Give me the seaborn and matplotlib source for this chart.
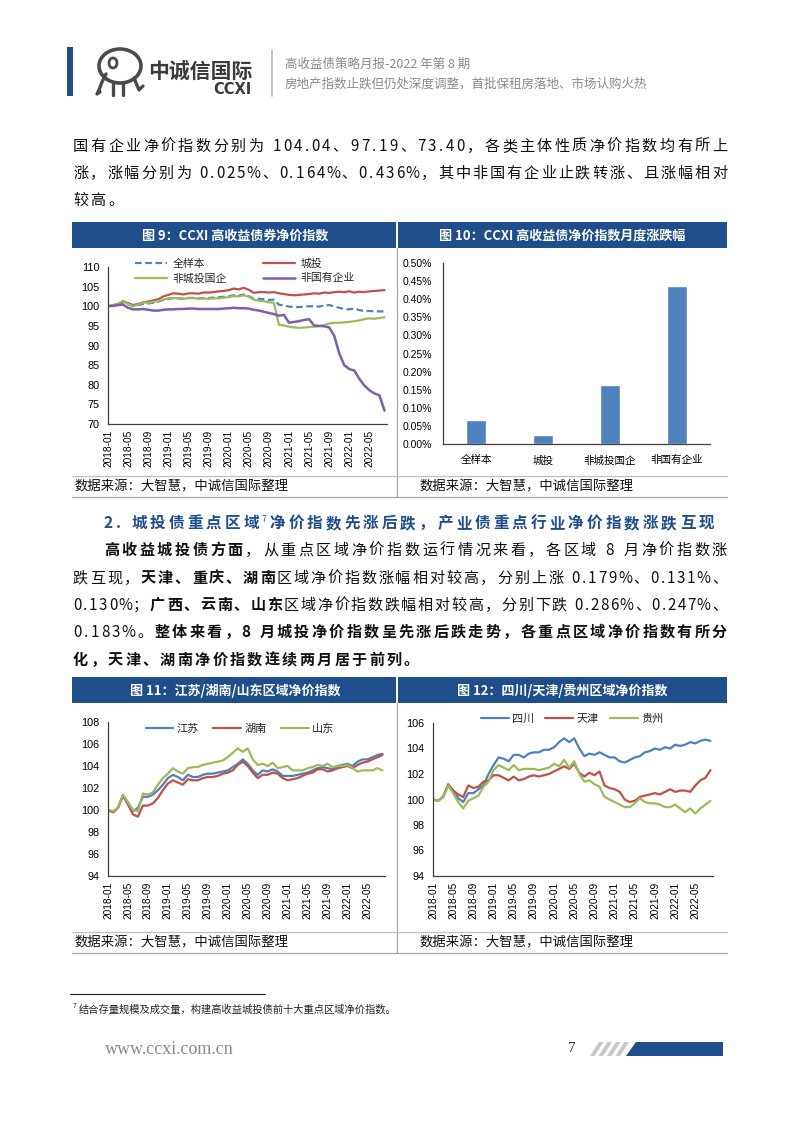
import unicodedata
import numpy as np
import pandas as pd
import matplotlib
matplotlib.use('Agg')
import matplotlib.pyplot as plt
import seaborn as sns
from matplotlib.patches import Rectangle, Polygon, Ellipse

# ------------------------------------------------------------------ data
months = list(range(56))  # 2018-01 ... 2022-08
tick_months = [0, 4, 8, 12, 16, 20, 24, 28, 32, 36, 40, 44, 48, 52]
tick_labels = ['2018-01', '2018-05', '2018-09', '2019-01', '2019-05', '2019-09', '2020-01',
               '2020-05', '2020-09', '2021-01', '2021-05', '2021-09', '2022-01', '2022-05']

# Fig 9
s9_names = ['全样本', '城投', '非城投国企', '非国有企业']
s9_all = [100, 100.2, 100.5, 101.0, 100.5, 100.0, 100.3, 100.6, 100.7, 100.9, 101.2, 101.6, 101.9, 102.1,
          102.0, 101.9, 102.1, 102.1, 102.0, 102.1, 102.1, 102.2, 102.3, 102.4, 102.5, 102.8, 102.7, 103.0,
          102.6, 101.9, 101.9, 101.8, 101.6, 101.7, 100.4, 100.2, 99.9, 99.8, 99.8, 99.9, 100.0, 100.0,
          99.9, 100.2, 100.3, 100.0, 99.6, 99.3, 99.2, 99.4, 99.0, 98.8, 98.8, 98.7, 98.7, 98.7]
s9_ct = [100, 100.2, 100.5, 101.3, 100.8, 100.3, 100.6, 101.0, 101.2, 101.5, 101.8, 102.5, 102.9, 103.3,
         103.2, 103.0, 103.3, 103.3, 103.2, 103.5, 103.5, 103.6, 103.8, 103.9, 104.1, 104.5, 104.3, 104.7,
         104.2, 103.4, 103.6, 103.6, 103.5, 103.6, 103.3, 103.1, 102.9, 102.8, 102.9, 103.0, 103.1, 103.3,
         103.2, 103.5, 103.4, 103.6, 103.7, 103.6, 103.8, 103.5, 103.7, 103.6, 103.8, 103.9, 104.0, 104.1]
s9_soe = [100, 100.3, 100.7, 101.3, 100.6, 100.0, 100.4, 101.0, 100.9, 101.1, 101.3, 101.7, 102.0, 102.1,
          102.0, 101.9, 102.1, 102.1, 101.9, 102.0, 101.9, 102.0, 102.0, 102.2, 102.3, 102.6, 102.5, 102.8,
          102.4, 101.7, 101.4, 101.3, 101.0, 100.9, 95.3, 95.1, 94.8, 94.6, 94.5, 94.6, 94.7, 94.8,
          94.9, 95.2, 95.6, 95.8, 95.8, 95.9, 96.0, 96.2, 96.4, 96.7, 96.9, 96.8, 97.0, 97.2]
s9_pri = [100, 100.1, 100.3, 100.4, 99.6, 99.2, 99.2, 99.3, 99.1, 98.9, 98.9, 99.1, 99.2, 99.2,
          99.3, 99.3, 99.4, 99.4, 99.3, 99.3, 99.3, 99.3, 99.3, 99.4, 99.5, 99.6, 99.5, 99.5,
          99.4, 99.1, 98.9, 98.6, 98.3, 98.0, 97.6, 97.8, 95.8, 96.0, 96.2, 96.5, 96.7, 95.1,
          95.0, 94.9, 94.6, 92.5, 88.0, 85.0, 84.0, 83.6, 81.5, 79.8, 78.6, 77.8, 77.3, 73.4]

# Fig 10
cats10 = ['全样本', '城投', '非城投国企', '非国有企业']
vals10 = [0.067, 0.025, 0.164, 0.436]  # percent

# Fig 11
s11_names = ['江苏', '湖南', '山东']
s11_js = [100, 99.8, 100.2, 101.3, 100.7, 99.9, 100.2, 101.2, 101.2, 101.4, 101.8, 102.3, 102.9, 103.2,
          103.0, 102.7, 103.2, 103.0, 103.0, 103.2, 103.3, 103.3, 103.4, 103.5, 103.6, 103.9, 104.2, 104.6,
          104.2, 103.6, 103.2, 103.6, 103.5, 103.7, 103.5, 103.1, 103.1, 103.1, 103.2, 103.3, 103.4, 103.6,
          103.8, 103.9, 103.8, 103.7, 104.0, 104.1, 104.2, 104.0, 104.4, 104.6, 104.6, 104.8, 105.0, 105.1]
s11_hn = [100, 99.8, 100.2, 101.3, 100.5, 99.6, 99.4, 100.4, 100.4, 100.6, 101.1, 101.8, 102.4, 102.7,
          102.5, 102.3, 102.8, 102.7, 102.7, 102.9, 103.0, 103.0, 103.1, 103.3, 103.4, 103.6, 104.1, 104.4,
          104.0, 103.4, 102.9, 103.2, 103.2, 103.4, 103.3, 102.9, 102.7, 102.8, 102.9, 103.1, 103.3, 103.4,
          103.7, 103.7, 103.5, 103.6, 103.8, 103.9, 104.0, 103.8, 104.1, 104.3, 104.4, 104.6, 104.8, 105.0]
s11_sd = [100, 99.9, 100.2, 101.4, 100.7, 100.0, 99.9, 101.5, 101.4, 101.6, 102.3, 102.9, 103.3, 103.8,
          103.5, 103.3, 103.8, 103.9, 103.9, 104.1, 104.2, 104.3, 104.4, 104.5, 104.8, 105.2, 105.6, 105.3,
          105.6, 104.6, 104.1, 104.2, 104.0, 104.3, 103.8, 103.9, 104.0, 103.6, 103.6, 103.6, 103.8, 103.9,
          104.1, 104.0, 104.2, 103.9, 104.0, 104.0, 104.1, 103.8, 103.5, 103.6, 103.6, 103.6, 103.8, 103.6]

# Fig 12
s12_names = ['四川', '天津', '贵州']
s12_sc = [100, 99.9, 100.2, 101.1, 100.7, 100.1, 99.8, 100.5, 100.5, 100.8, 101.1, 102.0, 102.7, 103.3,
          103.2, 103.0, 103.5, 103.5, 103.3, 103.6, 103.7, 103.7, 103.9, 103.9, 104.1, 104.5, 104.8, 104.5,
          104.8, 104.0, 103.4, 103.6, 103.5, 103.7, 103.5, 103.3, 103.3, 103.0, 102.9, 103.1, 103.3, 103.4,
          103.7, 103.8, 104.0, 103.9, 104.1, 104.0, 104.3, 104.2, 104.3, 104.5, 104.4, 104.6, 104.7, 104.6]
s12_tj = [100, 99.9, 100.2, 101.2, 100.7, 100.4, 100.2, 101.1, 100.9, 101.0, 101.4, 101.5, 101.9, 101.9,
          101.7, 101.5, 101.8, 101.5, 101.6, 101.8, 101.9, 101.8, 101.9, 102.0, 102.2, 102.4, 102.6, 102.4,
          102.8, 102.1, 101.8, 102.1, 101.9, 102.2, 101.1, 100.9, 100.8, 100.6, 100.0, 99.8, 99.9, 100.2,
          100.3, 100.4, 100.5, 100.4, 100.6, 100.8, 100.6, 100.7, 100.7, 100.6, 101.1, 101.5, 101.7, 102.3]
s12_gz = [100, 99.9, 100.2, 101.1, 100.5, 99.8, 99.3, 99.9, 100.1, 100.3, 101.0, 101.4, 102.3, 102.7,
          102.5, 102.3, 102.7, 102.3, 102.4, 102.4, 102.4, 102.3, 102.4, 102.5, 102.8, 102.6, 103.1, 102.5,
          103.0, 102.0, 101.4, 101.5, 101.2, 101.0, 100.2, 100.0, 99.8, 99.6, 99.4, 99.4, 99.7, 100.1,
          99.8, 99.7, 99.7, 99.6, 99.4, 99.4, 99.6, 99.3, 99.0, 99.3, 98.9, 99.3, 99.6, 99.9]

# ------------------------------------------------------------------ setup
sns.set_theme(style='white')
CJK = ['Noto Sans CJK SC', 'DejaVu Sans']
plt.rcParams['font.family'] = CJK
plt.rcParams['axes.unicode_minus'] = False

W, H = 802, 1133
fig = plt.figure(figsize=(W / 100, H / 100), dpi=100)
fig.patch.set_facecolor('white')

bg = fig.add_axes([0, 0, 1, 1], zorder=0)
bg.set_xlim(0, W)
bg.set_ylim(H, 0)
bg.axis('off')

NAVY = '#1F4E8C'
BLUE = '#4F81BD'
RED = '#C0504D'
GREEN = '#9BBB59'
PURPLE = '#7E5FA8'

HALF = {' ': 0.30, '.': 0.30, '%': 0.85, '7': 0.55}


def adv(c, size):
    em = size * 100 / 72
    if unicodedata.east_asian_width(c) in ('W', 'F'):
        return em
    return HALF.get(c, 0.55) * em


PUNCT = set('，、。；：')


def draw_line(segs, x0, yc, x1=None, gap=None, size=10.9, color='#111111'):
    items = []
    for seg in segs:
        txt, bold = seg[0], seg[1]
        sz = seg[2] if len(seg) > 2 else size
        dy = seg[3] if len(seg) > 3 else 0
        col = seg[4] if len(seg) > 4 else color
        for c in txt:
            items.append((c, bold, sz, dy, col))
    advs = [adv(c, s) for c, b, s, _, _ in items]
    if gap is None:
        gap = (x1 - x0 - sum(advs)) / (len(items) - 1) if x1 is not None else 0
    em = size * 100 / 72
    yb = yc + 0.38 * em
    x = x0
    for (c, b, s, dy, col), a in zip(items, advs):
        if c != ' ':
            w = 'bold' if b else 'normal'
            if c in PUNCT:
                bg.text(x, yb + dy, c, ha='left', va='baseline', fontsize=s, fontweight=w, color=col)
            else:
                bg.text(x + a / 2, yb + dy, c, ha='center', va='baseline', fontsize=s, fontweight=w, color=col)
        x += a + gap
    return gap


# ------------------------------------------------------------------ header
bg.add_patch(Rectangle((67, 47), 6, 49, color=NAVY, lw=0))
# elephant logo (approximation)
bg.add_patch(Ellipse((120, 66), 42, 34, fill=False, ec='#4a4a4a', lw=2.6))
bg.plot([106, 102, 99, 97, 100], [74, 82, 90, 94, 92], color='#4a4a4a', lw=2.4, solid_capstyle='round')
bg.plot([113, 113], [82, 95], color='#4a4a4a', lw=2.4)
bg.plot([123, 123], [83, 95], color='#4a4a4a', lw=2.4)
bg.plot([134, 139, 143], [78, 90, 86], color='#4a4a4a', lw=2.4)
bg.add_patch(Ellipse((113, 63), 8, 10, fill=False, ec='#4a4a4a', lw=2.0))
bg.text(148, 71, '中诚信国际', fontsize=15, fontweight='bold', color='#3a3a3a', ha='left', va='center')
bg.text(252, 89, 'CCXI', fontsize=10.5, fontweight='bold', color='#3a3a3a', ha='right', va='center',
        family='DejaVu Sans')
bg.plot([272, 272], [50, 96], color='#A8BCD0', lw=1.2)
bg.text(285, 64, '高收益债策略月报-2022 年第 8 期', fontsize=9.0, color='#8a8a8a', ha='left', va='center')
bg.text(285, 84, '房地产指数止跌但仍处深度调整，首批保租房落地、市场认购火热', fontsize=9.0,
        color='#8a8a8a', ha='left', va='center')

# ------------------------------------------------------------------ paragraph 1
L, R = 73, 727
g = draw_line([('国有企业净价指数分别为 104.04、97.19、73.40，各类主体性质净价指数均有所上', False)], L, 145, R)
draw_line([('涨，涨幅分别为 0.025%、0.164%、0.436%，其中非国有企业止跌转涨、且涨幅相对', False)], L, 172, R)
draw_line([('较高。', False)], L, 199, gap=g)

# ------------------------------------------------------------------ panel helpers


def panel_frame(ytop, ybot):
    bg.add_patch(Rectangle((72, ytop), 324, 26, color=NAVY, lw=0))
    bg.add_patch(Rectangle((398, ytop), 329, 26, color=NAVY, lw=0))
    bg.plot([397, 397], [ytop + 26, ybot], color='#A6A6A6', lw=0.9)
    bg.plot([72, 727], [ybot - 21, ybot - 21], color='#BFBFBF', lw=0.9)
    bg.plot([72, 727], [ybot, ybot], color='#A6A6A6', lw=0.9)
    bg.text(75, ybot - 10.5, '数据来源：大智慧，中诚信国际整理', fontsize=9.6, color='#111', ha='left', va='center')
    bg.text(420, ybot - 10.5, '数据来源：大智慧，中诚信国际整理', fontsize=9.6, color='#111', ha='left', va='center')


def add_ax(x0, y0, x1, y1):
    ax = fig.add_axes([x0 / W, 1 - y1 / H, (x1 - x0) / W, (y1 - y0) / H], zorder=2)
    ax.set_facecolor('none')
    for s in ['top', 'right']:
        ax.spines[s].set_visible(False)
    for s in ['left', 'bottom']:
        ax.spines[s].set_color('#404040')
        ax.spines[s].set_linewidth(0.9)
    ax.grid(False)
    return ax


def finish_line_ax(ax, ylim, yticks):
    ax.set_xlim(0, 55.5)
    ax.set_ylim(*ylim)
    ax.set_yticks(yticks)
    ax.set_yticklabels([str(v) for v in yticks])
    ax.set_xticks(tick_months)
    ax.set_xticklabels(tick_labels, rotation=90)
    ax.set_xlabel('')
    ax.set_ylabel('')
    ax.tick_params(axis='y', length=0, pad=6, labelsize=7.8, labelfontfamily='Liberation Sans', labelcolor='#000')
    ax.tick_params(axis='x', length=0, pad=4, labelsize=7.3, labelfontfamily='Liberation Sans', labelcolor='#000')


# ------------------------------------------------------------------ figure 9 / 10
panel_frame(222, 497)
bg.text(235, 235.5, '图 9：CCXI 高收益债券净价指数', color='white', fontsize=9.4, fontweight='bold',
        ha='center', va='center')
bg.text(562, 235.5, '图 10：CCXI 高收益债净价指数月度涨跌幅', color='white', fontsize=9.4, fontweight='bold',
        ha='center', va='center')

ax9 = add_ax(108, 267, 387, 424)
sns.lineplot(x=months, y=s9_all, ax=ax9, color=BLUE, linewidth=1.6, linestyle=(0, (3, 1.6)), label=s9_names[0])
sns.lineplot(x=months, y=s9_ct, ax=ax9, color=RED, linewidth=1.6, label=s9_names[1])
sns.lineplot(x=months, y=s9_soe, ax=ax9, color=GREEN, linewidth=1.6, label=s9_names[2])
sns.lineplot(x=months, y=s9_pri, ax=ax9, color=PURPLE, linewidth=1.8, label=s9_names[3])
finish_line_ax(ax9, (70, 110), [70, 75, 80, 85, 90, 95, 100, 105, 110])
h, l = ax9.get_legend_handles_labels()
order = [0, 2, 1, 3]
ax9.legend([h[i] for i in order], [l[i] for i in order], ncol=2, frameon=False, fontsize=7.8,
           handlelength=2.9, handletextpad=0.5, columnspacing=3.4, labelspacing=0.4,
           loc='center', bbox_to_anchor=(245 / W, 1 - 271 / H), bbox_transform=fig.transFigure)

ax10 = add_ax(443, 263, 710, 444)
df10 = pd.DataFrame({'cat': cats10, 'val': vals10})
sns.barplot(data=df10, x='cat', y='val', ax=ax10, color=BLUE, saturation=1, width=0.3)
ax10.set_xlim(-0.5, 3.5)
ax10.set_ylim(0, 0.5)
yt10 = [0.0, 0.05, 0.10, 0.15, 0.20, 0.25, 0.30, 0.35, 0.40, 0.45, 0.50]
ax10.set_yticks(yt10)
ax10.set_yticklabels([f'{v:.2f}%' for v in yt10])
ax10.set_xlabel('')
ax10.set_ylabel('')
ax10.tick_params(axis='y', length=0, pad=8, labelsize=7.5, labelfontfamily='Liberation Sans', labelcolor='#000')
ax10.tick_params(axis='x', length=0, pad=8, labelsize=7.6, labelcolor='#000')

# ------------------------------------------------------------------ section 2
hs = 11.2
draw_line([('2. ', True, hs, 0, NAVY), ('城投债重点区域', True, hs, 0, NAVY), ('7', False, 6.0, -6, NAVY),
           ('净价指数先涨后跌，产业债重点行业净价指数涨跌互现', True, hs, 0, NAVY)], 104, 522, 714, size=hs)
g2 = draw_line([('高收益城投债方面', True), ('，从重点区域净价指数运行情况来看，各区域 8 月净价指数涨', False)],
               104, 549, R)
draw_line([('跌互现，', False), ('天津、重庆、湖南', True), ('区域净价指数涨幅相对较高，分别上涨 0.179%、0.131%、', False)],
          L, 577, R)
draw_line([('0.130%；', False), ('广西、云南、山东', True), ('区域净价指数跌幅相对较高，分别下跌 0.286%、0.247%、', False)],
          L, 604, R)
g3 = draw_line([('0.183%。', False), ('整体来看，8 月城投净价指数呈先涨后跌走势，各重点区域净价指数有所分', True)],
               L, 631, R)
draw_line([('化，天津、湖南净价指数连续两月居于前列。', True)], L, 659, gap=g3)

# ------------------------------------------------------------------ figure 11 / 12
panel_frame(677, 953)
bg.text(235, 690.5, '图 11：江苏/湖南/山东区域净价指数', color='white', fontsize=9.4, fontweight='bold',
        ha='center', va='center')
bg.text(562, 690.5, '图 12：四川/天津/贵州区域净价指数', color='white', fontsize=9.4, fontweight='bold',
        ha='center', va='center')

ax11 = add_ax(108, 722, 385, 876)
sns.lineplot(x=months, y=s11_js, ax=ax11, color=BLUE, linewidth=1.6, label=s11_names[0])
sns.lineplot(x=months, y=s11_hn, ax=ax11, color=RED, linewidth=1.6, label=s11_names[1])
sns.lineplot(x=months, y=s11_sd, ax=ax11, color=GREEN, linewidth=1.6, label=s11_names[2])
finish_line_ax(ax11, (94, 108), [94, 96, 98, 100, 102, 104, 106, 108])
ax11.legend(ncol=3, frameon=False, fontsize=8.0, handlelength=2.5, handletextpad=0.3, columnspacing=1.3,
            loc='center', bbox_to_anchor=(240 / W, 1 - 729 / H), bbox_transform=fig.transFigure)

ax12 = add_ax(433, 723, 713, 876)
sns.lineplot(x=months, y=s12_sc, ax=ax12, color=BLUE, linewidth=1.6, label=s12_names[0])
sns.lineplot(x=months, y=s12_tj, ax=ax12, color=RED, linewidth=1.6, label=s12_names[1])
sns.lineplot(x=months, y=s12_gz, ax=ax12, color=GREEN, linewidth=1.6, label=s12_names[2])
finish_line_ax(ax12, (94, 106), [94, 96, 98, 100, 102, 104, 106])
ax12.legend(ncol=3, frameon=False, fontsize=8.0, handlelength=2.5, handletextpad=0.3, columnspacing=1.0,
            loc='center', bbox_to_anchor=(572 / W, 1 - 719 / H), bbox_transform=fig.transFigure)

# ------------------------------------------------------------------ footnote & footer
bg.plot([70, 265], [994, 994], color='#222', lw=0.8)
bg.text(73, 1006, '7', fontsize=5.0, color='#222', ha='left', va='center')
bg.text(79, 1010, '结合存量规模及成交量，构建高收益城投债前十大重点区域净价指数。', fontsize=7.4,
        color='#222', ha='left', va='center')
bg.text(105, 1050, 'www.ccxi.com.cn', fontsize=13, color='#8a8a8a', ha='left', va='center',
        family='Liberation Serif')
bg.text(572, 1049, '7', fontsize=11, color='#333', ha='center', va='center', family='Liberation Serif')
for i in range(4):
    x0 = 590 + i * 8.5
    bg.add_patch(Polygon([(x0, 1056), (x0 + 9, 1042), (x0 + 13.5, 1042), (x0 + 4.5, 1056)],
                         closed=True, color='#C8C8C8', lw=0))
bg.add_patch(Polygon([(626, 1056), (636, 1042), (723, 1042), (723, 1056)], closed=True, color=NAVY, lw=0))

fig.savefig('out.png', dpi=100, facecolor='white')
